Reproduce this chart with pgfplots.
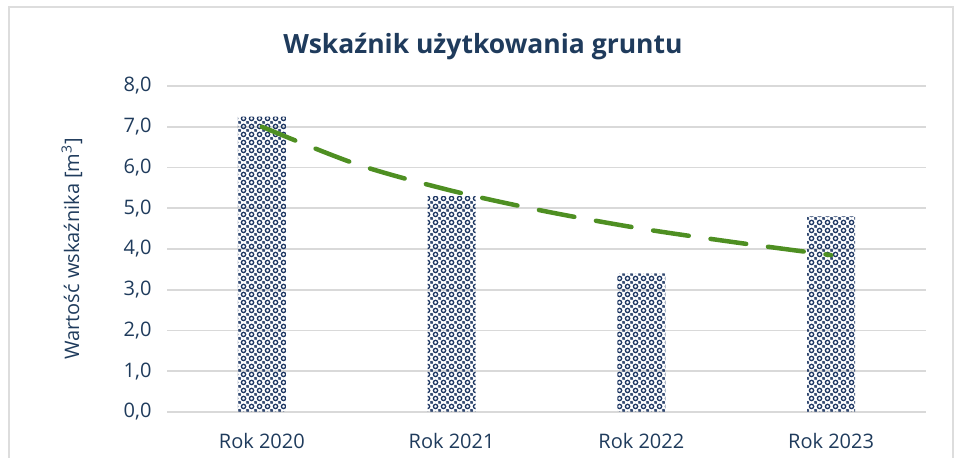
\documentclass[border=0pt]{standalone}
\usepackage{fontspec}
\setmainfont{Open Sans}
\usepackage{pgfplots}
\pgfplotsset{compat=1.18}
\usetikzlibrary{patterns.meta}
\definecolor{navy}{HTML}{1F3B5C}
\definecolor{barnavy}{HTML}{1F3864}
\definecolor{trend}{HTML}{4E8F22}
\definecolor{gridc}{HTML}{D9D9D9}
\definecolor{framec}{HTML}{DDDDDD}

% ring-and-dot tile, close to the Excel pattern fill
\pgfdeclarepattern{
  name=rings, type=uncolored,
  bottom left={\pgfpoint{0pt}{0pt}}, top right={\pgfpoint{8pt}{8pt}},
  tile size={\pgfpoint{8pt}{8pt}},
  code={
    \pgfsetlinewidth{1.5pt}
    \pgfpathcircle{\pgfpoint{4pt}{4pt}}{2.4pt}
    \pgfusepath{stroke}
    \pgfpathcircle{\pgfpoint{0pt}{0pt}}{1.3pt}
    \pgfpathcircle{\pgfpoint{8pt}{0pt}}{1.3pt}
    \pgfpathcircle{\pgfpoint{0pt}{8pt}}{1.3pt}
    \pgfpathcircle{\pgfpoint{8pt}{8pt}}{1.3pt}
    \pgfusepath{fill}
  }
}

\begin{document}
\begin{tikzpicture}[x=1pt,y=1pt]
\useasboundingbox (0,0) rectangle (954,458);
\draw[framec, line width=1.5pt] (9,-5) -- (9,451) -- (953,451) -- (953,-5);
\node[font=\fontsize{26.5}{30}\selectfont\bfseries, text=navy] at (483,411) {Wskaźnik użytkowania gruntu};

\begin{axis}[
  at={(167pt,46pt)}, anchor=origin,
  scale only axis, width=759pt, height=326pt,
  xmin=0.5, xmax=4.5, ymin=0, ymax=8,
  xtick={1,2,3,4},
  xticklabels={Rok 2020, Rok 2021, Rok 2022, Rok 2023},
  ytick={0,1,...,8},
  yticklabel style={/pgf/number format/fixed, /pgf/number format/fixed zerofill, /pgf/number format/precision=1, /pgf/number format/use comma, /pgf/number format/assume math mode=true},
  ticklabel style={font=\fontsize{20}{24}\selectfont, text=navy},
  xticklabel style={yshift=-18pt},
  yticklabel style={xshift=-12pt},
  ylabel={Wartość wskaźnika [m\textsuperscript{3}]},
  every axis y label/.style={at={(axis description cs:0,0.5)}, rotate=90, anchor=center, yshift=95pt, font=\fontsize{20}{24}\selectfont, text=navy},
  axis line style={draw=none},
  major tick style={draw=none},
  ymajorgrids, grid style={gridc, line width=1.8pt},
]
\addplot[ybar, bar width=48pt, draw=none, pattern={rings}, pattern color=barnavy]
  coordinates {(1,7.25) (2,5.3) (3,3.4) (4,4.8)};
\addplot[trend, line width=4.5pt, line cap=round, dash pattern=on 36pt off 22pt, smooth, no marks]
  coordinates {(1,7.0) (1.5,6.08) (2,5.43) (2.5,4.92) (3,4.50) (3.5,4.16) (4,3.85)};
\end{axis}
\end{tikzpicture}
\end{document}
